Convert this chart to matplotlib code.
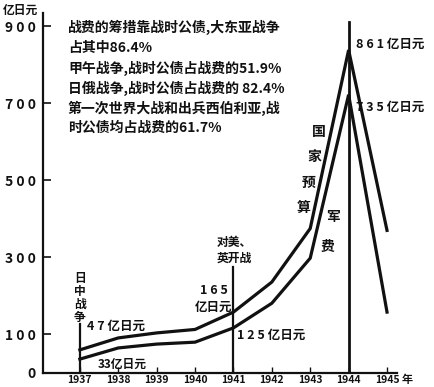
import matplotlib
matplotlib.use("Agg")
import matplotlib.pyplot as plt

plt.rcParams["font.family"] = ["Noto Sans CJK SC", "DejaVu Sans"]

# data (100 million yen)
years = [1937, 1938, 1939, 1940, 1941, 1942, 1943, 1944, 1945]
budget = [60, 91, 104, 113, 158, 236, 375, 838, 370]      # 国家预算
military = [36, 65, 75, 80, 117, 181, 298, 722, 158]      # 军费
event_years = [1937, 1941, 1944]
event_tops = [128, 275, 910]
yticks = [0, 100, 300, 500, 700, 900]
ytick_labels = ["0", "1 0 0", "3 0 0", "5 0 0", "7 0 0", "9 0 0"]
note_lines = [
    "战费的筹措靠战时公债,大东亚战争",
    "占其中86.4%",
    "甲午战争,战时公债占战费的51.9%",
    "日俄战争,战时公债占战费的 82.4%",
    "第一次世界大战和出兵西伯利亚,战",
    "时公债均占战费的61.7%",
]

W, H = 434, 387
INK = "#111111"

def px(x, y):
    # pixel position -> figure fraction
    return x / W, 1 - y / H

fig = plt.figure(figsize=(W / 100, H / 100), dpi=100)
fig.patch.set_facecolor("white")
ax = fig.add_axes([43 / W, 14 / H, 354 / W, 360 / H])
ax.set_xlim(1936.04, 1945.26)
ax.set_ylim(0, 934)

ax.plot(years, budget, color=INK, lw=2.3, solid_joinstyle="miter", zorder=3)
ax.plot(years, military, color=INK, lw=2.3, solid_joinstyle="miter", zorder=3)
for yr, top in zip(event_years, event_tops):
    ax.plot([yr, yr], [0, top], color=INK, lw=1.6 if yr != 1944 else 2.0, zorder=2)

for sp in ["top", "right"]:
    ax.spines[sp].set_visible(False)
for sp in ["left", "bottom"]:
    ax.spines[sp].set_linewidth(1.6)
    ax.spines[sp].set_color(INK)

ax.set_yticks(yticks)
ax.set_yticklabels(ytick_labels, fontsize=10, color=INK, fontweight="bold")
ax.set_xticks(years)
ax.set_xticklabels([str(y) for y in years], fontsize=7.5, color=INK, fontweight="bold")
ax.tick_params(axis="y", direction="in", length=6, width=1.2, pad=5, colors=INK)
ax.tick_params(axis="x", direction="in", length=4, width=1.0, pad=1.5, colors=INK)
ax.yaxis.get_major_ticks()[0].tick1line.set_visible(False)

fig.text(*px(3, 10), "亿日元", fontsize=8.5, fontweight="bold", color=INK, va="center", ha="left")
fig.text(*px(402, 380), "年", fontsize=8, fontweight="bold", color=INK, va="center", ha="left")

# note block at top
note_y = [27, 48, 68, 88, 108, 128]
for line, yy in zip(note_lines, note_y):
    fig.text(*px(68, yy), line, fontsize=10, fontweight="bold", color=INK, va="center", ha="left")

# value labels
lab = dict(fontsize=9, fontweight="bold", color=INK, va="center")
fig.text(*px(356, 44), "8 6 1 亿日元", ha="left", **lab)
fig.text(*px(356, 107), "7 3 5 亿日元", ha="left", **lab)
fig.text(*px(237, 335), "1 2 5 亿日元", ha="left", **lab)
fig.text(*px(214, 291), "1 6 5", ha="center", **lab)
fig.text(*px(214, 307), "亿日元", ha="center", **lab)
fig.text(*px(87, 326), "4 7 亿日元", ha="left", **lab)
fig.text(*px(98, 364), "33亿日元", ha="left", fontsize=8.5, fontweight="bold", color=INK, va="center")

fig.text(*px(234, 242), "对美、", ha="center", fontsize=8.5, fontweight="bold", color=INK, va="center")
fig.text(*px(234, 258), "英开战", ha="center", fontsize=8.5, fontweight="bold", color=INK, va="center")
fig.text(*px(80, 298), "日\n中\n战\n争", ha="center", va="center", fontsize=8.5,
         fontweight="bold", color=INK, linespacing=1.0)

# diagonal series names
for i, ch in enumerate("国家预算"):
    fig.text(*px(319 - 5 * i, 132 + 25.3 * i), ch, ha="center", va="center",
             fontsize=10, fontweight="bold", color=INK)
for i, ch in enumerate("军费"):
    fig.text(*px(333 - 5 * i, 217 + 30 * i), ch, ha="center", va="center",
             fontsize=10, fontweight="bold", color=INK)

fig.savefig("out.png", dpi=100, facecolor="white")
